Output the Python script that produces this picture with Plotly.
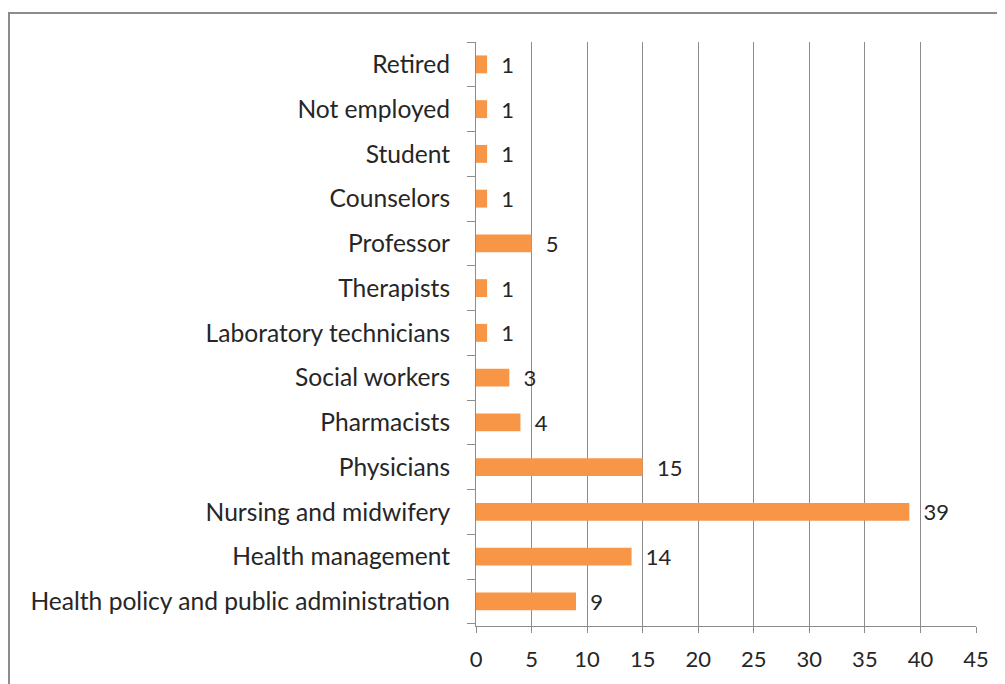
import plotly.graph_objects as go

categories = ["Health policy and public administration", "Health management",
              "Nursing and midwifery", "Physicians", "Pharmacists", "Social workers",
              "Laboratory technicians", "Therapists", "Professor", "Counselors",
              "Student", "Not employed", "Retired"]
values = [9, 14, 39, 15, 4, 3, 1, 1, 5, 1, 1, 1, 1]
x_ticks = [0, 5, 10, 15, 20, 25, 30, 35, 40, 45]

# page body has an 8px margin; figure sized to fit the window
W, H = 997, 676
L, R, T, B = 468, 29, 34, 58
pw, ph = W - L - R, H - T - B

fig = go.Figure(go.Bar(
    y=categories, x=values, orientation="h",
    marker=dict(color="#F79646", line=dict(width=0)),
    text=[f"  {v}" for v in values], textposition="outside", cliponaxis=False,
    constraintext="none",
    textfont=dict(family="Lato", size=22, color="#262626"),
))

fig.update_layout(
    width=W, height=H, margin=dict(l=L, r=R, t=T, b=B, autoexpand=False),
    paper_bgcolor="white", plot_bgcolor="white", showlegend=False,
    bargap=0.6,
    font=dict(family="Lato", size=24.6, color="#262626"),
    xaxis=dict(range=[0, 45], tickvals=x_ticks, showgrid=True, gridcolor="#8c8c8c",
               gridwidth=1, zeroline=False, showline=True, linecolor="#8c8c8c",
               ticks="outside", ticklen=6, tickcolor="#8c8c8c", fixedrange=True,
               tickfont=dict(size=22), ticklabelstandoff=8),
    yaxis=dict(categoryorder="array", categoryarray=categories, showline=True,
               linecolor="#8c8c8c", ticks="outside", ticklen=8, tickcolor="#8c8c8c",
               tickson="boundaries", showgrid=False, range=[-0.55, 12.5],
               ticklabelstandoff=20, fixedrange=True),
    shapes=[dict(type="rect", xref="paper", yref="paper",
                 x0=(1 - L) / pw, x1=(W + 20 - L) / pw,
                 y0=-(H + 20 - T - ph) / ph, y1=1 + (T - 5) / ph,
                 line=dict(color="#8c8c8c", width=2), fillcolor="rgba(0,0,0,0)")],
)

fig.write_html("out.html")
